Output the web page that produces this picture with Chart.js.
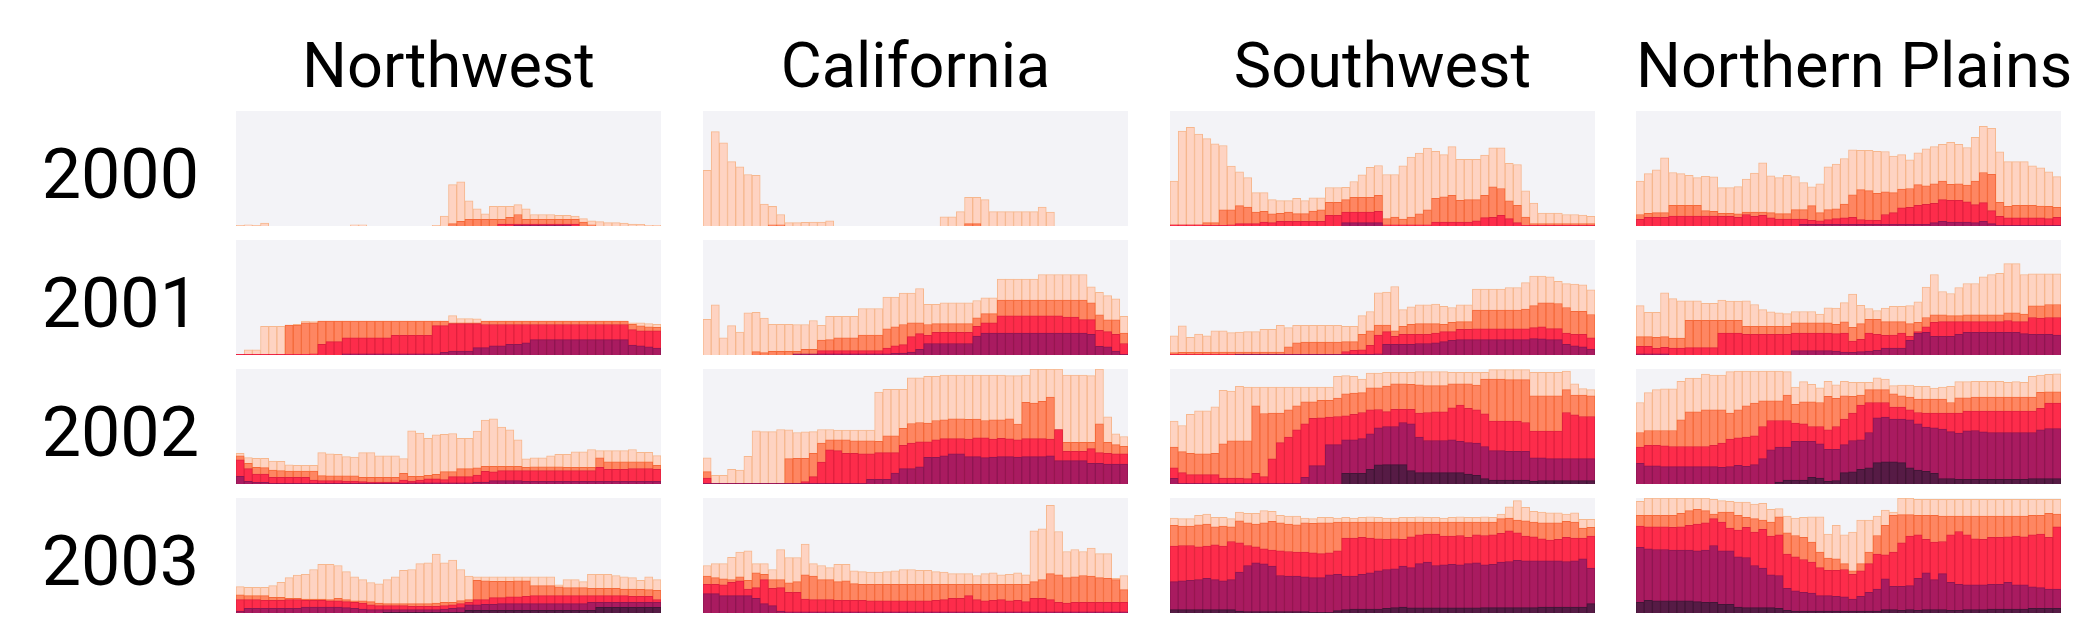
<!DOCTYPE html>
<html>
<head>
<meta charset="utf-8">
<script src="https://cdn.jsdelivr.net/npm/chart.js@4.4.1/dist/chart.umd.min.js"></script>
<style>
  html, body { margin: 0; padding: 0; background: #fff; }
  #wrap { position: relative; width: 2088px; height: 626px; overflow: hidden; font-family: Roboto, "Noto Sans", sans-serif; color: #000; }
  .title { position: absolute; width: 425px; text-align: center; font-size: 63px; line-height: 64px; white-space: nowrap; }
  .year { position: absolute; left: 0; width: 199px; text-align: right; font-size: 70px; line-height: 72px; }
  canvas { position: absolute; background: #f3f3f7; }
</style>
</head>
<body>
<div id="wrap"></div>
<script>
// small multiples: share of area in drought, weekly, D0 (abnormally dry) .. D4 (exceptional)
const regions = ['Northwest', 'California', 'Southwest', 'Northern Plains'];
const years = ['2000', '2001', '2002', '2003'];
const levels = ['D0', 'D1', 'D2', 'D3', 'D4'];
const weeks = [1,2,3,4,5,6,7,8,9,10,11,12,13,14,15,16,17,18,19,20,21,22,23,24,25,26,
  27,28,29,30,31,32,33,34,35,36,37,38,39,40,41,42,43,44,45,46,47,48,49,50,51,52];
const NONE = [0,0,0,0,0,0,0,0,0,0, 0,0,0,0,0,0,0,0,0,0, 0,0,0,0,0,0,0,0,0,0,
  0,0,0,0,0,0,0,0,0,0, 0,0,0,0,0,0,0,0,0,0, 0,0];

// each panel: [D0+, D1+, D2+, D3+, D4] percent of area (cumulative, overlapping)
const nw2000 = [
  [0.5,1,0.5,2.5,0,0,0,0,0,0, 0,0,0,0,1,1,0,0,0,0, 0,0,0,0,0.5,8.7,36,38.4,21.8,15, 10.5,17,17,17,18.6,15,10,10,10,9.3, 9.3,8.7,6.4,4.6,3.8,2.9,2.9,2.6,1.7,1.5, 0.6,0.6],
  [0,0,0,0,0,0,0,0,0,0, 0,0,0,0,0,0,0,0,0,0, 0,0,0,0,0,0,2,4,5.8,5.8, 5.8,5.8,5.8,7.5,10,5.8,5.8,5.8,5.8,5.8, 5.8,5.8,3.5,1,0,0,0,0,0,0, 0,0],
  [0,0,0,0,0,0,0,0,0,0, 0,0,0,0,0,0,0,0,0,0, 0,0,0,0,0,0,0,0,0,0, 0,0,1.7,1.7,1.7,1.7,1.7,1.7,1.7,1.7, 1.7,1.7,0,0,0,0,0,0,0,0, 0,0],
  [0,0,0,0,0,0,0,0,0,0, 0,0,0,0,0,0,0,0,0,0, 0,0,0,0,0,0,0,0,0,0, 0,0,0,0,0.8,0.8,0.8,0.8,0.8,0.8, 0.8,0,0,0,0,0,0,0,0,0, 0,0],
  NONE
];
const ca2000 = [
  [48.5,82,72.4,56,51.5,44.8,44,19,17,10, 3,3,3.2,3.5,3.5,4.6,0,0,0,0, 0,0,0,0,0,0,0,0,0,8, 8,12.5,25,25,23,12.5,12.5,12.5,12.5,12.5, 12.5,16.5,12,0,0,0,0,0,0,0, 0,0],
  [0,0,0,0,0,0,0,0,1,1, 0,0,0,0,0,0,0,0,0,0, 0,0,0,0,0,0,0,0,0,0, 0,0,2,2,0,0,0,0,0,0, 0,0,0,0,0,0,0,0,0,0, 0,0],
  NONE, NONE, NONE
];
const sw2000 = [
  [39,82.6,85.8,80,76,71.5,70,52,47,42, 29,29,23,22,22,24,22,24.5,24.5,33.5, 33.5,33.7,38.7,44.5,51,52.6,44.8,44.8,52.3,60, 63.4,67.7,65,62,69,58,58,58,61.6,68, 68,54.4,53.5,30.5,20,11.3,11.3,11.3,10,10, 9.6,8.4],
  [1,1,1,1,3,3,14,14,17.7,16.5, 12,12.8,10.5,11,12,10.8,10.8,13,14,20.6, 20.6,23,25,25,25,26.7,6.4,7.8,6,7.8, 10.5,14,24,25.3,26.7,22.4,23,23,26.7,34, 32.6,21.8,18,7.8,2,2,2,2,2,2, 2,2],
  [1,1,1,1,0.5,0.5,0.5,1,2,2, 2,3.5,3,4,4,4,4,4,4,9.3, 9.3,12,12,12,12,12.8,1,1,1,1, 1,1,3.5,3.5,3.5,3.5,3.5,4.6,7.3,7.5, 9.3,6.4,3,0.5,0.5,0.5,0.5,0.5,0.5,0.5, 0.5,0.5],
  [0,0,0,0,0,0,0,0,0,0, 0,0,0,0,0,0,0,0,0,0, 0,3,3,3,3,3,0,0,0,0, 0,0,0,0,0,0,0,0,0,0, 0,0,0,0,0,0,0,0,0,0, 0,0],
  NONE
];
const np2000 = [
  [39,45.6,48.8,59.3,46.5,45.6,44,42,43.3,42.7, 33.4,33.4,34.3,40.7,46,55,43.6,42,44,43, 37.8,34,36.6,51.5,53.8,58.7,66.3,65.7,65.7,65, 64.8,60.8,62,57.5,63.7,67,69,71,72.7,71, 68.3,77,86.6,85,64.5,56,56,56,52.3,50.6, 47,43],
  [10,11,11.6,11.6,18,18,18,18,13.4,12.8, 11,11,10.5,12,12,12,11.6,10.8,10.8,14.2, 14.2,17.7,11.6,14.2,15,19,27,31.7,30.8,28.5, 29.7,29,32,32.6,36,35,36.6,39,36.3,36.6, 35.5,39,46.5,45,20.6,17,18,18,18,17.4, 17,16.3],
  [5.8,7.5,7.5,7.5,8.7,8.7,8.7,8.7,8.7,8.7, 8.4,8.4,7.5,10,8.4,9.3,7,6,6,6, 6,5,4.4,5.5,6.4,7,7.5,5.5,5.2,5, 10,11.6,15.7,16.3,18,18.9,19.8,23,22.4,22.4, 21,18.6,20.3,13.4,8.4,7,7,7,7,7, 6.4,7.5],
  [0,0,0,0,0,0,0,0,0,0, 0,0,0,0,0,0,0,0,0,0, 1.5,1.5,1.5,1.5,1.5,1.5,1.5,1.5,1.5,1.5, 1.5,1.5,1.5,1.5,1.5,1.5,3,4,3.5,3.5, 3.5,3,4,2,0.5,0.5,0.5,0.5,0.5,0.5, 0.5,0.5],
  NONE
];

const nw2001 = [
  [0.5,4.6,4.6,25,25,25,26,26.7,29.6,29, 29.6,29.6,29.6,29.6,29.6,29.6,29.6,29.6,29.6,29.6, 29.6,29.6,29.6,29.6,29.6,29.6,34.3,31.7,31.7,31.4, 29.6,29.6,29.6,29.6,29.6,29.6,29.6,29.6,29.6,29.6, 29.6,29.6,29.6,29.6,29.6,29.6,29.6,29.6,28,28, 27.3,26.7],
  [0.5,0.5,0.5,0.5,0.5,0.5,26,26,28,28, 29.6,29.6,29.6,29.6,29.6,29.6,29.6,29.6,29.6,29.6, 29.6,29.6,29.6,29.6,29.6,29.6,28,28,28,28, 29.4,29.4,29.4,29.4,29.4,29.4,29.4,29.4,29.4,29.4, 29.4,29.4,29.4,29.4,29.4,29.4,29.4,29.4,26.7,25.3, 24.4,24],
  [0.5,0.5,0.5,0.5,0.5,0.5,0.5,0.5,0.5,1, 9.3,11.6,11.6,15,15,15,15,15,15,17, 17,17,17,17,25.6,25.6,27.3,27.3,27.3,27.3, 26.5,26.5,26.5,26.5,26.5,26.5,26.5,26.5,26.5,26.5, 26.5,26.5,26.5,26.5,26.5,26.5,26.5,26.5,22,21, 21,21],
  [0,0,0,0,0,0,0,0,0,0, 0,0,0,1,1,1,1,1,1,1, 1,1,1,1,1,2.3,3.5,3.5,3.5,6.4, 6.4,8,8,9.3,9.3,10.5,13.4,13.4,13.4,13.4, 13.4,13.4,13.4,13.4,13.4,13.4,13.4,13.4,8.7,8, 7,6],
  NONE
];
const ca2001 = [
  [31,43.6,15,25.6,20,36.6,37.2,32,26.7,26.7, 26.7,26.5,26.5,30,25.9,33.7,33.7,33.7,33.7,40.4, 40.4,40.4,50.3,50.3,53.8,53.8,57.8,44,44,45.3, 45.3,45.3,45.3,47.4,49.7,49.7,66,66,66,66, 66,70,70,70,70,70,70,59.3,54.4,51.7, 48.8,33.7],
  [0,0,0,0,0,0,3,2,3.2,3.2, 3.2,3.2,5,5,13,13.4,15,15,15,17.4, 17.4,17.4,22.7,24.4,26.5,28,28,26.5,27.3,27.3, 27.3,27.3,27.3,32.3,36,36,47.7,47.7,47.7,47.7, 47.7,47.7,47.7,47.7,47.7,47.7,47.7,45.3,35,30.5, 30.5,19],
  [0,0,0,0,0,0,0,0,0,0, 0,0,0,0,3.8,3.8,3.8,3.8,3.8,3.8, 3.8,3.8,6,8,9,16,18.6,17,19.8,19.8, 19.8,19.8,19.8,25,28,28,34,34,34,34, 34,34,34,34,33,33,30.8,30.8,21.5,20.3, 18,10],
  [0,0,0,0,0,0,0,0,0,0, 0,1,1,1,1,1,1,1,1,1, 1,1,1,1.5,1.7,2.6,5,10,10,10, 10,10,10,16.5,19,19,19,19,19,19, 19,19,19,19,19,19,19,18,7.5,7, 3.5,0.5],
  NONE
];
const sw2001 = [
  [16.6,25.3,15.4,18.3,16.6,21,21,19.5,20,20.3, 20.3,22.4,22.4,25.9,23.8,25.9,25.9,25.9,25.9,25.9, 25.9,25,25,34.3,37.8,54,54.7,59.6,39.5,41.9, 43.6,43.6,44.2,42.4,41.3,43.6,43.6,57.3,57.3,57.3, 57.3,58.7,58.7,63,68.6,68.6,68,64,62,61.6, 61,56.7],
  [2,2.3,2.3,2.3,2.3,2.6,2.6,2.6,2.6,2.6, 2.6,2.6,2.6,2.6,7,10.5,11.3,11.3,11.3,11.3, 11.3,11.6,11.6,18,21,26,26,21,25,26.7, 27.3,27.3,27.3,26.7,28.5,29,29,39,39,39, 39,39,39,40,43,45.3,45.3,44.8,41.3,38, 38,35.2],
  [0.5,0.5,0.5,0.5,0.5,0.5,0.5,0.5,0.5,0.5, 0.5,0.5,0.5,0.5,0.5,0.5,0.5,0.5,0.5,0.5, 0.5,3,4,4.4,8.4,17.4,20.3,16.3,18,18, 18,18,19,20.3,20.3,22.4,22.4,22.7,22.7,22.7, 22.7,22.7,22.7,22.7,23.8,24.4,23,23,19,18, 18,15],
  [0,0,0,0,0,0,0,0,0.5,0.5, 0.5,0.5,0.5,0.5,0.5,0.5,0.5,0.5,0.5,0.5, 0.5,0.5,0.5,0.5,0.5,1,9.3,9.3,9.3,9.3, 10,10,10.5,11.6,12.8,13.4,13.4,13.4,13.4,13.4, 13.4,13.4,13.4,13.4,14.2,14,13.4,13.4,9.3,8, 7,5.2],
  NONE
];
const np2001 = [
  [43,37.2,37.2,54,49,47,47,47,45,45, 47.7,46.8,46.8,47,43.9,39.5,37.5,36.6,36,37.8, 37.8,37.8,35.5,41,40.7,45.6,53,43.3,40.4,38.7, 40.7,42.4,42.4,43,46.2,59,70,55.2,53.5,58.7, 62.2,62.2,68,70,71,79.4,79.4,70,70.6,70.6, 70.6,70.6],
  [16,16,15.4,16,14.8,14.8,30.2,30.2,30.2,30.2, 30.2,30.2,30.2,25,25,25,25,25,25,28, 28,28,28,28,26.7,28.8,24,27.3,31,31, 29,29,29,27.3,28.5,32.6,35,35,34.3,34.3, 35,35,35,35,35,36.6,36.6,35.5,42.7,42.7, 43.9,43.9],
  [7.5,7.5,5.8,6.7,6,6,6.4,6.4,6.4,6.4, 19,19,19,18,18,18,18,18,18,19, 19,19,19,19,18.6,19,12,13.7,19,18, 17,17.4,19,16.3,20.3,24.4,28.5,29,29,29, 29,29,29,29,29,30,29,29,32.6,32, 32.6,32.6],
  [1,1,1,1,0,0,0,0,0,0, 0,0,0,0,0,0,0,0,0,3.8, 3.8,3.8,3.8,3.8,3.5,2.6,2.3,3,3.5,4, 6,6,6,12.8,19,19.8,16.3,16.3,16.3,18, 19.8,19.8,19.8,19.8,19.8,19.8,19.8,18.6,18,18, 18,17.4],
  NONE
];

const nw2002 = [
  [26.7,23,22.4,22.4,20,19.8,16.6,16.3,16.3,16.3, 27.3,26.2,25.9,23.8,23.5,27.3,27.3,24.4,24.4,24.4, 22,46.2,44.2,39.8,42.7,43.3,43.9,39.8,39.8,46, 55.5,56.7,49.4,47,38.4,21.8,22.7,22.7,24.4,25.9, 25.9,28,28,30,29,29,29,29,30,27.6, 27.6,24.7],
  [24.4,18,14.5,14.2,12,11.6,11.3,11.3,11.3,11.3, 7.3,7,7,7,7,5.8,5.8,5.8,5.8,5.8, 9.3,6.7,6.7,7.5,8.4,10.8,10.8,13.4,13.4,14, 15.4,15.4,15.4,15.4,15.4,14.5,15,15,15,15, 14.5,14.5,14.5,14.5,22.7,19.2,19.2,19.2,19.2,19.2, 19.2,16.3],
  [21,13.4,8.7,8.7,5.8,5.8,5.8,5.8,5.8,3.5, 3,3,3,2.6,2.6,2,1.7,1.7,1.7,1.7, 3.5,2.6,3.5,4.4,4.4,3.8,6.4,6.4,6.4,7.8, 11,10.5,11.6,11.6,11.6,11.6,11.6,11.6,11.6,11.6, 11.6,11.6,11.6,11.6,14.5,12.8,12.8,12.8,13.4,13.4, 13.4,12.8],
  [6.7,2.3,1.5,1.5,0.5,0.5,0.5,0.5,0.5,0.5, 0.5,0.5,0.5,0.5,0.5,0.5,0.5,0.5,0.5,0.5, 0.5,1,1,1,1,1,1,1,1,1.7, 1.7,3,3,3,3,2.3,2.3,2.3,2.3,2.3, 2.3,2.3,2.3,2.3,2.3,2.3,2.3,2.3,2.3,2.3, 2.3,2.3],
  NONE
];
const ca2002 = [
  [22.7,7.5,7.5,12.8,12.2,24,46.2,45.6,45.6,47.4, 47,44.8,45.3,45.6,47.4,47.4,46.8,46.8,46.8,46.8, 46.8,80,82.3,82.3,82.3,92.4,92.4,93.6,93.6,94.8, 94.8,94.8,94.8,94.8,94.8,94.8,94.8,94.2,94.2,94.8, 100,100,100,100,94.8,94.8,94.8,94.2,100,58.4, 43.6,41.3],
  [10.8,0.5,0.5,0.5,0.5,0.5,0.5,0.5,0.5,0.5, 22,22.4,22.4,26.7,35.5,38.4,38.4,38.4,37.5,37.5, 37.5,37.2,41.9,41.9,48.5,52.6,53.5,52.9,55.2,55.8, 56.7,56.7,56.2,56.4,55.2,55.8,55.8,56.7,52,71, 70.3,71.8,75.6,47.4,36.3,36.3,36.3,36.3,52.3,36.3, 34.3,32.8],
  [5.2,0.5,0.5,0.5,0.5,0.5,0.5,0.5,0.5,0.5, 0.5,0.5,2,6.4,19,29.7,29,26.7,26.7,26.2, 26.2,27.3,27.3,27.3,33.7,35.5,36.6,36.6,38.4,39.5, 39.5,39.5,39,40.1,40.1,39,39.8,39.2,38.4,39.5, 39.5,39.5,39,47.4,28.5,28.5,28.5,30.8,27.3,26.7, 26.2,26.2],
  [0.5,0.5,0.5,0.5,0.5,0.5,0.5,0.5,0.5,0.5, 0.5,0.5,0.5,0.5,0.5,0.5,0.5,0.5,0.5,0.5, 4,4,4,9.6,13.4,13.4,15,23.3,23.3,24.4, 26.2,26.2,23.8,23.8,23,23.5,23.8,23.8,23.5,23.8, 23.8,23.8,24.4,20.3,20.3,20.3,20.3,18,18,17.4, 17.4,17.4],
  NONE
];
const sw2002 = [
  [54.7,50.9,60.5,63.7,63.7,67.2,81.4,80.8,84.9,84.3, 84.3,84.3,84.3,84.3,84.3,84.3,84.3,84.3,84.3,84.3, 93.6,94.2,93.6,91.3,96.5,96.5,97,97,97,97, 97.7,97.7,97.7,97.7,97,97,97,97,97,99.4, 99.4,99.4,99.4,99.4,97,97,97,97,98.3,87.2, 83,82],
  [32,28.2,26.7,26.2,26.2,26.7,34.9,37.5,37.5,37.5, 68,61.3,61.6,61.6,64.5,68,71.5,71.5,72.7,72.7, 74.7,78.5,79,79.4,83.7,83.7,85.2,87.2,87.2,86.6, 86.3,85.5,85.5,85.5,87.2,87.2,87.2,86,91.3,91.3, 91.3,90.7,90.7,90.7,76.7,76.7,76.7,76.7,82,77.3, 77.3,76.7],
  [14,9.9,8.1,8.1,8.1,8.1,5.2,5.2,5.2,4.7, 9.3,6.4,21.8,36,40.7,47,52.3,57,57.6,58.1, 58.7,59.3,60.5,62.2,64.5,64.8,63,65,65,65, 61.6,62.2,62.8,62.8,66.3,68.6,65.7,64.5,61,54.7, 54.7,54.7,54.7,53.5,46,46,46,46,62.2,60.2, 58.7,58.7],
  [5,0.6,0.6,0.6,0.6,0.6,0.6,0.6,0.6,0.6, 0.6,0.6,0.6,0.6,0.6,0.6,5.8,16,16,34.3, 34.3,38.4,38.4,39.5,43.6,48.8,50,50,53.5,52.3, 40.7,37.8,37.8,37.8,38.4,37.2,36,35.5,32.6,29, 29,28.5,28.5,28.5,22.7,22.7,22,22,22,22, 22,22],
  [0,0,0,0,0,0,0,0,0,0, 0,0,0,0,0,0,0,0,0,0, 0,9.3,9.3,9.3,12.8,16.6,16.9,16.9,16.9,11.6, 9.9,9.9,9.9,9.9,9.9,9.9,8.7,7.6,4.7,3.5, 3.5,3.5,3.5,3.5,2.3,2.9,2.9,2.9,2.9,2.9, 2.9,2.9]
];
const np2002 = [
  [70.9,79.4,82,82.8,82.8,89.2,92.2,92.2,95.6,94.8, 94.8,97.7,98.3,98.3,98.3,98.3,98.3,98.3,97.7,84.3, 89,86.6,83.7,89.2,86.3,89.2,88.4,88.4,88.4,92.4, 91.3,85.5,86,86,84.9,84.9,83.4,84.3,84.9,89, 89,89.2,89.2,89.2,89.2,88.4,89,88.4,93.6,94.8, 95.3,95.9],
  [44.8,46.5,46.5,46.5,46.5,55.8,62.8,62.8,64.5,64.5, 64.5,61.6,64.5,68,70.3,72.4,72.4,72.4,77.3,69.2, 71.5,71.5,70.9,76.2,74.4,76.7,76.2,77.3,82,82, 82,78.5,76.7,75.6,73.8,73.8,73.8,73.8,70.9,75, 75,75.6,75.6,75.6,75.6,75.6,75.6,75.6,75.6,79.7, 80.2,80.2],
  [32,33.7,33.7,33.1,32.6,32.6,32.6,32.6,32.6,33.7, 35.5,39,40.1,40.7,41.9,50,55.2,55.2,55.2,52.9, 52.3,50,50,47,50,56.4,61.6,68.6,70.9,70.9, 70.9,66.9,66.9,64.5,62.2,61.6,61.6,61.6,61.6,61.6, 63.4,63.4,63.4,63.4,63.4,63.4,63.4,63.4,63.4,65.7, 70.3,70.3],
  [18,15.7,15.7,15.1,15.1,15.1,15.1,15.1,15.1,15.1, 14.5,15.1,16.3,15.4,16.9,22,29.7,32,32,37.2, 37.2,37.2,34.9,30.2,30.2,34.3,37.8,38.4,44.8,57.6, 58.1,56.4,56.4,55.8,52.3,49.4,48.8,47.7,45.6,44.2, 46.2,46.5,45.3,44.8,44.8,44.8,44.8,44.8,44.8,47, 48.3,48.3],
  [0,0,0,0,0,0,0,0,0,0, 0,0,0,0,0,0,0,1.7,3.5,3.5, 3.5,5.8,5.2,2.3,2.9,9.9,10.5,12.8,14,18.6, 19.2,19.2,18.6,14,12.2,11,9.3,4.7,4.7,4, 4,4,4,4,4,4,4,4,4.7,4.7, 4.7,4.7]
];

const nw2003 = [
  [23,22.4,22.4,22.4,23.8,26.7,30.8,33,33.7,37.8, 42.4,42.4,41.3,36,31.4,29,26.5,25.3,29,31.4, 37.2,37.8,43,43.6,51.2,43.6,46,37.8,32,31.4, 31.4,31.4,31.4,31.4,31.4,31.4,31.4,31.4,31.4,24.4, 29,29,27.3,33.7,33.7,33.7,32.6,31.4,30.8,28.5, 31.4,29],
  [15.7,15.1,15.1,15.1,13.7,13.7,12.8,12.8,12.2,12.2, 12.2,11.6,12.8,11.6,10.5,10.5,9.9,8.7,8.1,8.1, 8.1,8.1,8.1,8.1,8.7,9.3,9.3,10.8,11.6,28.5, 27.9,27.6,27.6,27.6,27.9,27.9,23.8,23.8,23.8,22.7, 22,22,22,21.5,21.5,21.5,21.5,20.9,20.9,20.6, 20.3,19.8],
  [11.6,11.6,11.6,11,11,11,11.6,11.6,11,11, 11,10.5,10.5,9.9,9.3,8.7,7,6.4,6.4,6.4, 6.4,5.8,5.8,5.8,5.8,6.4,7,8.1,9.3,11.6, 11.6,13.4,13.4,14,14,14.5,15.1,15.1,15.1,15.1, 15.1,15.1,15.1,15.1,15.1,15.1,15.1,15.1,14.5,14.5, 14.5,11.6],
  [1.7,4,4,4,4,4,4,4,5.2,5.2, 5.2,5.2,5.2,4.7,4,3.5,2.9,2.9,2.9,2.9, 2.9,2.9,2.9,2.9,2.9,3.5,4,4.7,7,7, 7.6,7.6,8.1,8.1,8.1,8.1,8.1,8.1,8.1,8.1, 8.1,8.1,8.1,9.3,9.3,9.3,9.3,9.3,9.3,9.3, 9.3,9.3],
  [0,0,0,0,0,0,0,0,0,0, 0,0,0,0,0,0,0,0,0.6,0.6, 0.6,0.6,0.6,0.6,0.6,0.6,0.6,0.6,2.3,2.3, 2.3,2.3,2.3,2.3,2.3,2.3,2.3,2.3,2.3,2.3, 2.3,2.3,2.3,2.3,5,5,5,5,5,5, 5,5]
];
const ca2003 = [
  [41.3,43,43,48.5,52.9,54,43,43,37.8,55.2, 48.3,48.3,59.9,43,41.3,39.5,42.4,42.4,36.6,36, 35.5,35.5,36,36.6,37.8,37.8,37.2,37.2,36,35.5, 34.3,34.3,34.3,32.6,34.3,34.9,33.1,33.7,34.9,33.1, 71.5,73.3,93.6,70.9,53.5,55.2,53.5,56.4,51.7,51.7, 30.2,32.6],
  [32,30.8,29.7,29,31.4,28.5,34.9,33.7,29,29, 26.2,27.3,33.1,32,29,29,27.3,27.9,25.6,25, 25,25,25,25,25,25,25,25,25,25, 25,25,25,25,25,25,25,25,25,25, 27.3,29,34.3,33.1,30.8,31.4,32.6,32,30.8,30.2, 29,20.3],
  [25,25,24.4,26.7,27.9,20.9,22,29,21.5,22, 18,18,12.2,11.6,11.6,11.6,11,11,11,11, 10.5,10.5,10.5,10.5,10.5,10.5,10.5,10.5,11,11.6, 12.8,12.8,15.1,11.6,10.5,11,11.6,10.5,11,9.9, 12.8,12.8,11.6,9.3,8.7,9.3,9.3,9.3,9.3,9.3, 9.3,9.3],
  [16.9,16.9,15.1,15.1,15.1,15.1,12.8,8.1,6.4,1.7, 1,1,1,1,1,1,1,1,1,1, 1,1,1,1,1,1,1,1,1,1, 1,1,1,1,1,1,1,1,1,1, 1,1,1,1,1,1,1,1,1,1, 1,1],
  NONE
];
const sw2003 = [
  [82.6,82,82,84.9,86,83.1,83.1,82,87.8,86.6, 86.6,89,88.4,84.9,84.3,84.3,82.6,82,83.1,83.1, 82.6,83.1,82.6,83.1,83.7,83.1,82.6,82.6,83.1,83.1, 83.7,83.1,83.1,82.6,83.1,83.7,83.1,83.1,83.7,83.1, 86,92.4,97.7,91.9,88.4,87.8,87.2,87.2,86,87.2, 81.4,81.4],
  [76.2,75.6,75.6,76.7,77.3,75,75.6,75,80.2,78.5, 77.3,78.5,79.7,78.5,77.3,76.7,78.5,77.9,78.5,78.5, 79.1,79.1,79.1,79.1,79.1,79.1,79.1,79.1,79.1,79.1, 79.1,79.1,79.1,79.1,79.1,79.1,79.1,79.1,79.1,79.1, 82,82.6,80.8,80.2,79.1,78.5,78.5,78.5,79.7,79.1, 73.8,74.4],
  [58.1,58.7,58.7,57.6,58.1,59.3,58.1,62.2,61,58.7, 57.6,55.8,54.7,54,53.5,52.9,52.9,52.3,51.7,52.3, 54,65.1,65.1,65.7,65.1,64.5,64,64.5,64,66.3, 68,68.6,68.6,66.9,66.9,67.4,65.7,68,67.4,68, 69.2,71.5,69.8,66.9,66.3,64.5,63.4,64,65.7,65.1, 65.1,66.9],
  [27.3,27.9,28.5,29,30.2,29,27.9,29,35.5,41.3, 43.6,42.7,40.7,32.6,32,32,31.4,30.8,30.8,33.1, 33.7,32,32,33.7,34.9,36.6,37.8,38.4,40.7,39.5, 43,44.2,41.3,41.9,42.4,41.9,43,43.6,41.9,42.4, 44.2,44.8,45.9,45.3,45.3,45.3,45.3,45.3,44.8,45.3, 47.1,39],
  [2.9,2.9,2.9,2.9,2.9,2.9,2.9,2.9,1.7,1.2, 1.2,1.2,1.2,1.2,1.2,1.2,1.2,0.6,0.6,0.6, 2,2.9,3.5,3.5,3.5,3.5,4,4.7,5.2,4.4, 4.4,4.4,4.4,4.4,4.4,4.4,4.4,4.4,4.7,4.7, 4.7,4.7,4.7,4.7,4.7,5.2,5.2,5.2,5.2,5.2, 5.2,8.1]
];
const np2003 = [
  [97,100,100,100,100,100,100,100,100,98.8, 97.7,97.1,96.5,96.5,94.8,95.3,90.1,90.7,84.3,82.6, 83.1,83.7,83.7,68.6,76.2,68,70.3,80.8,80.8,84.3, 89.5,87.8,100,100,98.8,98.8,98.8,98.8,98.8,98.8, 98.8,98.8,98.8,98.8,98.8,98.8,98.8,98.8,98.8,98.8, 98.8,98.8],
  [84.9,84.9,84.9,84.9,84.9,86.6,89,90.1,89,86, 87.8,87.8,84.9,83.1,82,80.8,79,83.7,69.8,67.4, 65.7,61.6,52.9,47.7,47.1,43,36.6,43,52.9,67.4, 76.2,84.9,85.5,85.5,84.9,84.9,84.9,84.3,84.3,84.3, 84.3,84.3,84.3,84.3,84.3,84.3,84.3,84.3,84.9,84.9, 86.6,86],
  [75.6,75,75,75,74.4,75,76.2,77.3,78.5,82, 79,73.8,72.1,74.4,70.3,72.7,66.9,68,51.2,48.8, 46.5,44.2,39.5,37.2,37.2,37.8,33.7,36.6,43,51.2, 50.6,52.9,61,66.9,68,64,61.6,62.2,68,70.9, 68,64.5,64,65.7,65.7,66.3,66.9,66.3,68,68.6, 65.7,75],
  [57,55.8,55.2,55.2,54.7,54.7,54.7,54,54.7,58.7, 54,54,48.8,48.3,41.3,39,33.1,32.6,21.5,19.2, 18,17.4,15.1,15.1,14.5,14,12.2,14.5,18,20.9, 29.7,23.3,23.3,23.8,30.2,34.9,29,34.3,26.7,25, 24.4,24.4,24.4,25,25,26.7,24.4,24.4,22.7,22.1, 20.9,20.9],
  [9.3,11,10.5,10.5,10.5,10.5,10.5,9.9,9.3,9.3, 7.6,7.6,5.2,4.7,4.7,4.7,4.7,4.1,2.3,1.7, 1.7,1.7,1.7,1.7,1.7,1.7,1.7,1.7,1.7,1.7, 2.9,2.9,2.3,2.9,2.3,2.9,2.9,2.9,2.3,2.3, 2.9,2.9,2.9,3.5,3.5,3.5,3.5,3.5,4,4, 4,4]
];

const grid = [
  [nw2000, ca2000, sw2000, np2000],
  [nw2001, ca2001, sw2001, np2001],
  [nw2002, ca2002, sw2002, np2002],
  [nw2003, ca2003, sw2003, np2003]
];

const fills = ['#fed3c2', '#fe8662', '#fd2c4b', '#a91b60', '#561b45'];
const borders = ['#f6b78e', '#f4693a', '#e0213f', '#8f1652', '#421536'];

// layout (px)
const colLeft = [236, 703, 1170, 1636];
const rowTop = [111, 240, 369, 498];
const panelW = 425;
const panelH = 115;

const wrap = document.getElementById('wrap');

regions.forEach((name, c) => {
  const t = document.createElement('div');
  t.className = 'title';
  t.textContent = name;
  t.style.left = colLeft[c] + 'px';
  t.style.top = '34px';
  wrap.appendChild(t);
});

years.forEach((yr, r) => {
  const y = document.createElement('div');
  y.className = 'year';
  y.textContent = yr;
  y.style.top = (rowTop[r] + panelH / 2 + 29 - 60) + 'px';
  wrap.appendChild(y);

  regions.forEach((name, c) => {
    const cv = document.createElement('canvas');
    cv.width = panelW;
    cv.height = panelH;
    cv.style.left = colLeft[c] + 'px';
    cv.style.top = rowTop[r] + 'px';
    wrap.appendChild(cv);

    const series = grid[r][c];
    new Chart(cv, {
      type: 'bar',
      data: {
        labels: weeks,
        datasets: levels.map((lv, k) => ({
          label: lv,
          data: series[k],
          backgroundColor: fills[k],
          borderColor: borders[k],
          borderWidth: 1,
          categoryPercentage: 1,
          barPercentage: 1,
          order: levels.length - 1 - k
        }))
      },
      options: {
        responsive: false,
        animation: false,
        devicePixelRatio: 1,
        layout: { padding: 0 },
        plugins: { legend: { display: false }, tooltip: { enabled: false } },
        scales: {
          x: { display: false, stacked: true },
          y: { display: false, stacked: false, min: 0, max: 100 }
        }
      }
    });
  });
});
</script>
</body>
</html>
